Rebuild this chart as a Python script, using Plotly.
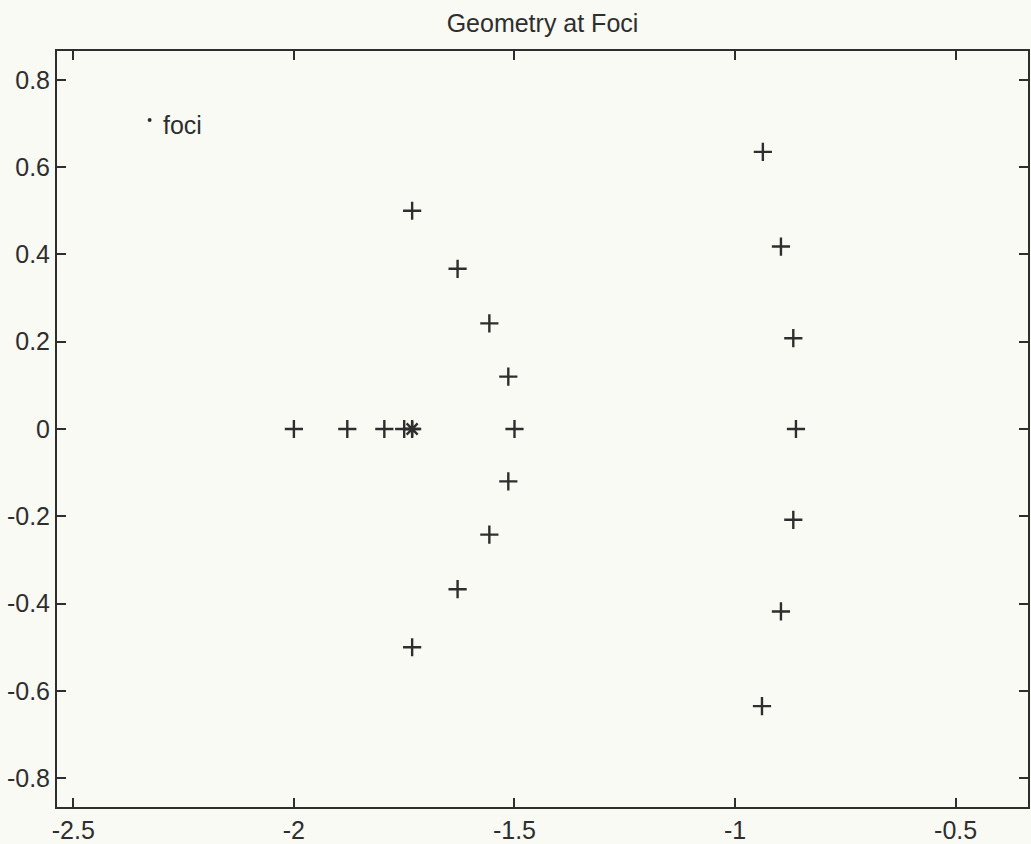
import plotly.graph_objects as go

# right column of points
right_x = [-0.937, -0.896, -0.868, -0.862, -0.868, -0.896, -0.939]
right_y = [0.635, 0.418, 0.208, 0.0, -0.208, -0.418, -0.635]

# middle arc of points
mid_x = [-1.732, -1.629, -1.557, -1.514, -1.500, -1.514, -1.557, -1.629, -1.732]
mid_y = [0.500, 0.367, 0.242, 0.120, 0.0, -0.120, -0.242, -0.367, -0.500]

# points along the real axis
axis_x = [-2.000, -1.879, -1.795, -1.750, -1.732]
axis_y = [0.0, 0.0, 0.0, 0.0, 0.0]

# foci (asterisk)
foci_x = [-1.732]
foci_y = [0.0]

# label marker
label_x = [-2.327]
label_y = [0.708]
label_text = ["foci"]

x_ticks = [-2.5, -2.0, -1.5, -1.0, -0.5]
x_ticklabels = ["-2.5", "-2", "-1.5", "-1", "-0.5"]
y_ticks = [0.8, 0.6, 0.4, 0.2, 0.0, -0.2, -0.4, -0.6, -0.8]
y_ticklabels = ["0.8", "0.6", "0.4", "0.2", "0", "-0.2", "-0.4", "-0.6", "-0.8"]

ink = "#2e2e2e"
bg = "#fafaf5"
font_family = "Liberation Sans, Arial, Helvetica, sans-serif"

plus_marker = dict(symbol="cross-thin", size=13, line=dict(color=ink, width=2.4), color=ink)

fig = go.Figure()
for xs, ys in [(right_x, right_y), (mid_x, mid_y), (axis_x, axis_y)]:
    fig.add_trace(go.Scatter(x=xs, y=ys, mode="markers", marker=plus_marker,
                             showlegend=False, hoverinfo="x+y"))
fig.add_trace(go.Scatter(x=foci_x, y=foci_y, mode="markers",
                         marker=dict(symbol="asterisk", size=13, color=ink,
                                     line=dict(color=ink, width=2.4)),
                         showlegend=False))
fig.add_trace(go.Scatter(x=label_x, y=label_y, mode="markers",
                         marker=dict(symbol="circle", size=4, color=ink),
                         showlegend=False))
for lx, ly, lt in zip(label_x, label_y, label_text):
    fig.add_annotation(x=lx, y=ly, text=lt, showarrow=False, xanchor="left",
                       yanchor="middle", xshift=11, yshift=-5,
                       font=dict(family=font_family, size=25, color=ink))

axis_common = dict(showline=True, linecolor=ink, linewidth=2, mirror="ticks",
                   ticks="inside", ticklen=9, tickwidth=1.5, tickcolor=ink,
                   showgrid=False, zeroline=False, automargin=False,
                   tickfont=dict(family=font_family, size=25, color=ink))

fig.update_layout(
    width=1031, height=844,
    margin=dict(l=57, r=3, t=51, b=37),
    paper_bgcolor=bg, plot_bgcolor=bg,
    title=dict(text="Geometry at Foci", x=0.5, xref="paper", xanchor="center",
               y=1 - 23.5 / 844, yref="container", yanchor="middle",
               font=dict(family=font_family, size=25, color=ink)),
    xaxis=dict(range=[-2.537, -0.336], tickvals=x_ticks, ticktext=x_ticklabels,
               **axis_common),
    yaxis=dict(range=[-0.866, 0.866], tickvals=y_ticks, ticktext=y_ticklabels,
               **axis_common),
)

fig.write_html("out.html")
